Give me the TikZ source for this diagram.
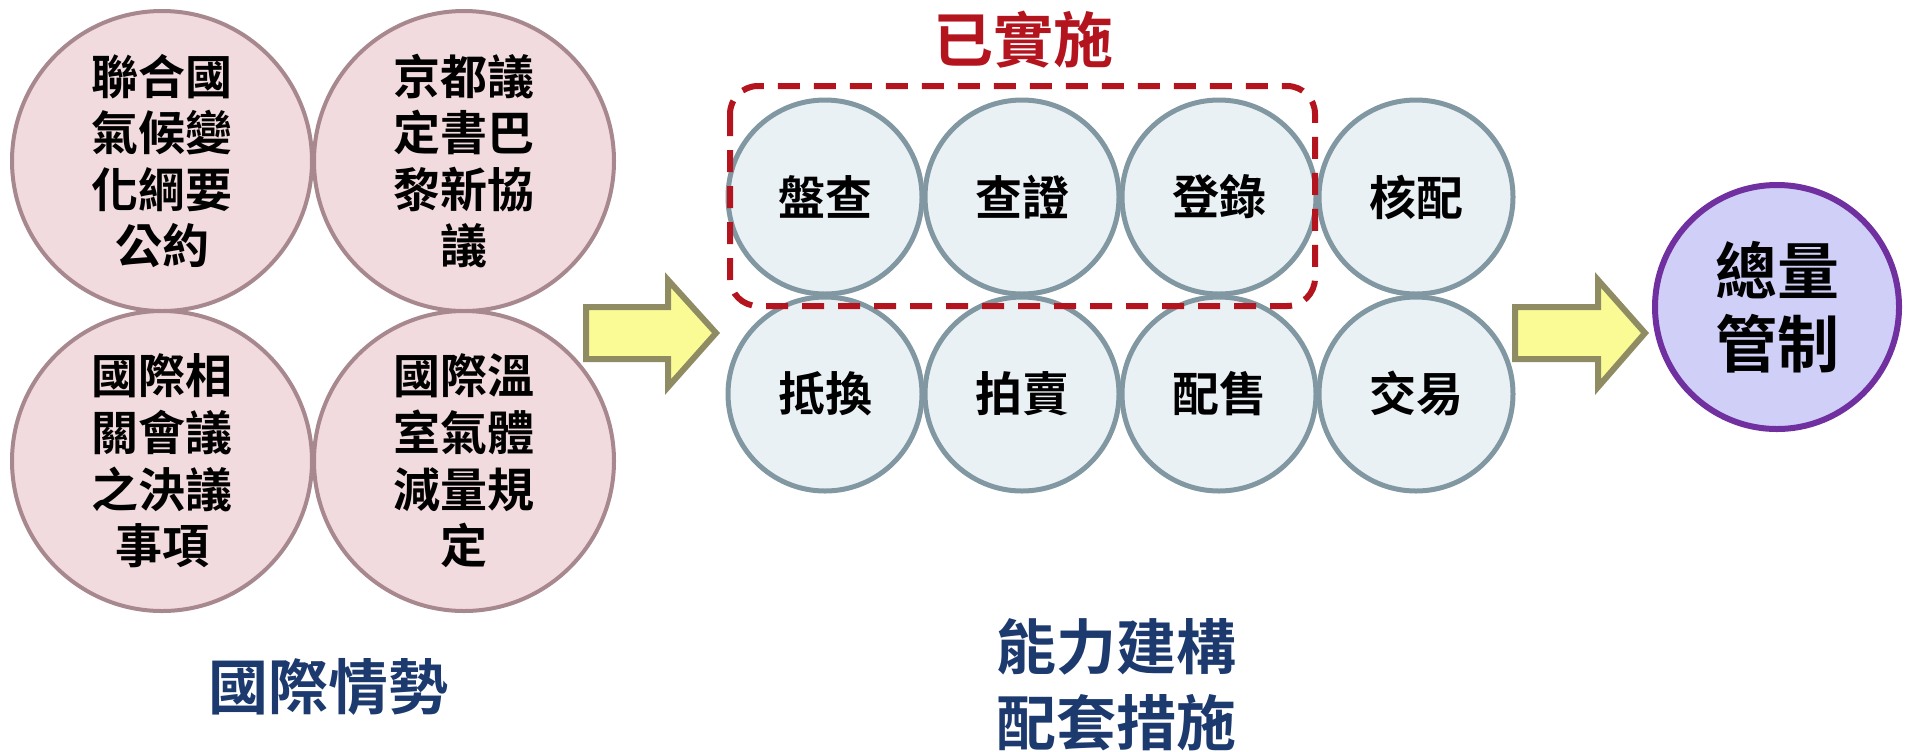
\documentclass[tikz,border=0pt]{standalone}
\usepackage{fontspec}
\newfontfamily\cjk{Noto Sans CJK TC}[BoldFont={* Bold}]
\usetikzlibrary{positioning}
\definecolor{pinkfill}{HTML}{F2DBDE}
\definecolor{pinkline}{HTML}{A8888F}
\definecolor{bluefill}{HTML}{EAF1F5}
\definecolor{blueline}{HTML}{8198A2}
\definecolor{purfill}{HTML}{CFCFF7}
\definecolor{purline}{HTML}{7030A0}
\definecolor{arrfill}{HTML}{FBFB96}
\definecolor{arrline}{HTML}{8F8B62}
\definecolor{navy}{HTML}{1C3A6E}
\definecolor{darkred}{HTML}{B3141E}
\tikzset{
  bigcirc/.style={circle, draw=pinkline, fill=pinkfill, line width=2pt, minimum size=150pt, inner sep=0pt, outer sep=0pt, align=center, font=\cjk\bfseries\fontsize{23.5}{28.3}\selectfont},
  smallcirc/.style={circle, draw=blueline, fill=bluefill, line width=2.5pt, minimum size=97pt, inner sep=0pt, outer sep=0pt, align=center, font=\cjk\bfseries\fontsize{23.5}{28}\selectfont},
  goalcirc/.style={circle, draw=purline, fill=purfill, line width=3pt, minimum size=122pt, inner sep=0pt, outer sep=0pt, align=center, font=\cjk\bfseries\fontsize{31}{36.5}\selectfont},
  blockarrow/.style={draw=arrline, fill=arrfill, line width=3pt, line join=miter},
  grouplabel/.style={text=navy, align=center, inner sep=0pt, font=\cjk\bfseries\fontsize{30}{38}\selectfont},
  donebox/.style={draw=darkred, line width=3pt, rounded corners=14pt, dash pattern=on 11pt off 7pt},
}
\begin{document}
\begin{tikzpicture}[x=0.5pt, y=-0.5pt]
\useasboundingbox (0,0) rectangle (1905,751);
% left group
\node[bigcirc] (un) at (162,161) {聯合國\\氣候變\\化綱要\\公約};
\node[bigcirc] (kyoto) at (464,161) {京都議\\定書巴\\黎新協\\議};
\node[bigcirc] (conf) at (162,461) {國際相\\關會議\\之決議\\事項};
\node[bigcirc] (ghg) at (464,461) {國際溫\\室氣體\\減量規\\定};
\node[grouplabel] (intl) at (328,687) {國際情勢};
% arrow 1
\draw[blockarrow] (586,307) -- (668,307) -- (668,280) -- (716,333) -- (668,387) -- (668,359) -- (586,359) -- cycle;
% middle group
\node[smallcirc] (inv) at (825,197) {盤查};
\node[smallcirc] (ver) at (1022,197) {查證};
\node[smallcirc] (reg) at (1219,197) {登錄};
\node[smallcirc] (alloc) at (1416,197) {核配};
\node[smallcirc] (offset) at (825,394) {抵換};
\node[smallcirc] (auction) at (1022,394) {拍賣};
\node[smallcirc] (sale) at (1219,394) {配售};
\node[smallcirc] (trade) at (1416,394) {交易};
\draw[donebox] (730,86) rectangle (1315,306);
\node[text=darkred, inner sep=0pt, font=\cjk\bfseries\fontsize{30}{36}\selectfont] (done) at (1023,40) {已實施};
\node[grouplabel] (cap) at (1116,685) {能力建構\\配套措施};
% arrow 2
\draw[blockarrow] (1515,307) -- (1598,307) -- (1598,280) -- (1645,333) -- (1598,387) -- (1598,359) -- (1515,359) -- cycle;
% goal
\node[goalcirc] (goal) at (1777,307) {總量\\管制};
\end{tikzpicture}
\end{document}
